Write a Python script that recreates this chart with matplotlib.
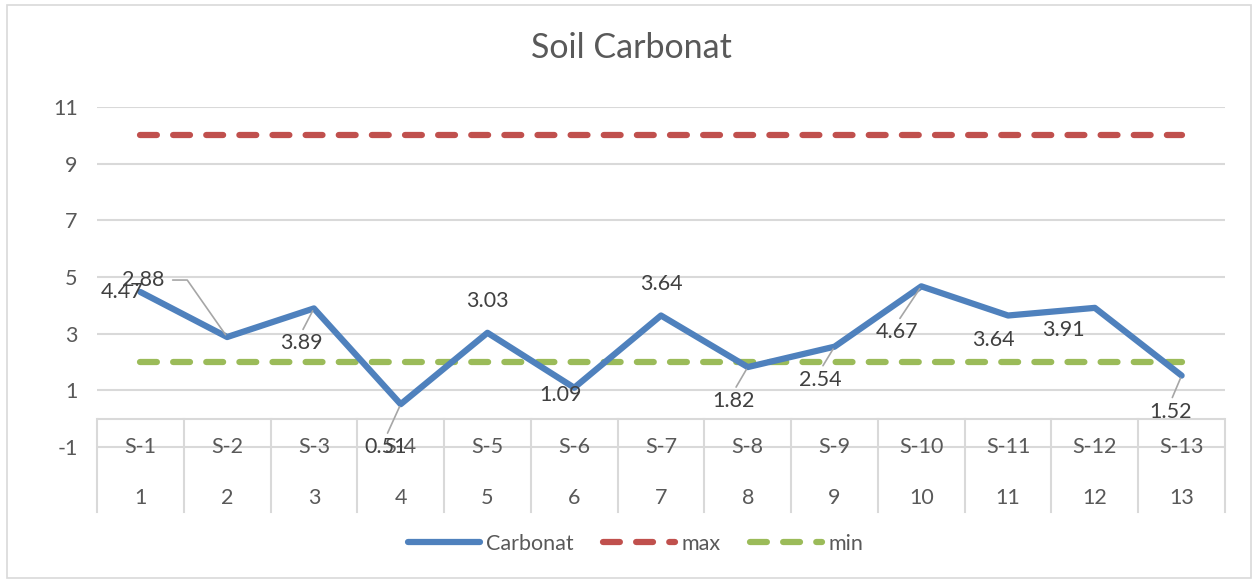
import numpy as np
import matplotlib
matplotlib.use('Agg')
import matplotlib.pyplot as plt
from matplotlib.patches import Rectangle
from matplotlib.lines import Line2D

#region Data
samples = ['S-1', 'S-2', 'S-3', 'S-4', 'S-5', 'S-6', 'S-7', 'S-8', 'S-9', 'S-10', 'S-11', 'S-12', 'S-13']
sample_no = ['1', '2', '3', '4', '5', '6', '7', '8', '9', '10', '11', '12', '13']
carbonat = [4.47, 2.88, 3.89, 0.51, 3.03, 1.09, 3.64, 1.82, 2.54, 4.67, 3.64, 3.91, 1.52]
max_limit = [10] * 13
min_limit = [2] * 13
yticks = [-1, 1, 3, 5, 7, 9, 11]
#endregion

#region Layout of data labels (pixel offsets, and leader line style)
label_offsets = [(-18, 0), (-84, 57), (-13, -35), (-15, -43), (0, 32), (-14, -7), (0, 32),
                 (-14, -34), (-14, -33), (-24, -46), (-15, -24), (-31, -22), (-11, -36)]
# None: no leader line; 'up': from top of label; 'elbow': from right of label
leaders = [None, 'elbow', 'up', 'up', None, None, None, 'up', 'up', 'up', None, None, 'up']
#endregion

plt.rcParams['font.family'] = ['Lato', 'DejaVu Sans']
blue, red, green = '#4F81BD', '#C0504D', '#9BBB59'
grid_c = '#D9D9D9'
txt_c = '#595959'
fs = 15.5

fig = plt.figure(figsize=[12.53, 5.80], dpi=100)
ax = fig.add_axes([97/1253, 1-512/580, 1128/1253, 405/580])

x = np.arange(1, len(samples)+1)
ymin = 11 - 405/28.33
ax.set_xlim(0.5, len(samples)+0.5)
ax.set_ylim(ymin, 11)

# gridlines
for yv in yticks:
    ax.axhline(yv, color=grid_c, lw=1.5, zorder=0)
ax.axhline(0, color=grid_c, lw=1.5, zorder=0)
# category table lines
for xv in np.arange(0.5, len(samples)+1, 1):
    ax.plot([xv, xv], [0, ymin], color=grid_c, lw=1.5, zorder=0, clip_on=False)

for s in ax.spines.values():
    s.set_visible(False)
ax.set_xticks([])
ax.set_yticks(yticks)
ax.set_yticklabels([str(v) for v in yticks])
ax.tick_params(axis='y', length=0, pad=14, labelsize=fs, labelcolor=txt_c)

# category labels, two levels
for xi, s, n in zip(x, samples, sample_no):
    ax.text(xi, -1, s, ha='center', va='center', fontsize=fs, color=txt_c)
    ax.text(xi, -2.8, n, ha='center', va='center', fontsize=fs, color=txt_c)

dash = dict(dashes=(2.7, 2.6), dash_capstyle='round')
ax.plot(x, max_limit, color=red, lw=4.5, zorder=2, **dash)
ax.plot(x, min_limit, color=green, lw=4.5, zorder=2, **dash)
ax.plot(x, carbonat, color=blue, lw=4.5, zorder=3, solid_capstyle='round', solid_joinstyle='round')

# data labels
for xi, v, off, ld in zip(x, carbonat, label_offsets, leaders):
    kw = {}
    if ld == 'up':
        kw['arrowprops'] = dict(arrowstyle='-', color='#A6A6A6', lw=1.2, relpos=(0.5, 1.0), shrinkA=1, shrinkB=2)
    elif ld == 'elbow':
        kw['arrowprops'] = dict(arrowstyle='-', color='#A6A6A6', lw=1.2, relpos=(1.0, 0.5), shrinkA=4, shrinkB=2,
                                connectionstyle='angle,angleA=0,angleB=-55,rad=0')
    ax.annotate(f'{v:.2f}', (xi, v), xytext=off, textcoords='offset pixels', ha='center', va='center',
                fontsize=fs, color='#404040', zorder=5, **kw)

fig.text(0.504, 1-48/580, 'Soil Carbonat', ha='center', va='center', fontsize=24.5, color=txt_c)

handles = [Line2D([], [], color=blue, lw=4.5, solid_capstyle='round'),
           Line2D([], [], color=red, lw=4.5, **dash),
           Line2D([], [], color=green, lw=4.5, **dash)]
fig.legend(handles, ['Carbonat', 'max', 'min'], loc='center', bbox_to_anchor=(0.507, 1-544/580), ncol=3,
           frameon=False, fontsize=fs, handlelength=3.35, columnspacing=1.35, handletextpad=0.3, labelcolor=txt_c)

fig.patches.append(Rectangle((7/1253, 2/580), 1244/1253, 573/580, transform=fig.transFigure,
                             fill=False, edgecolor=grid_c, lw=1.2))

fig.savefig('out.png', dpi=100, facecolor='white')
